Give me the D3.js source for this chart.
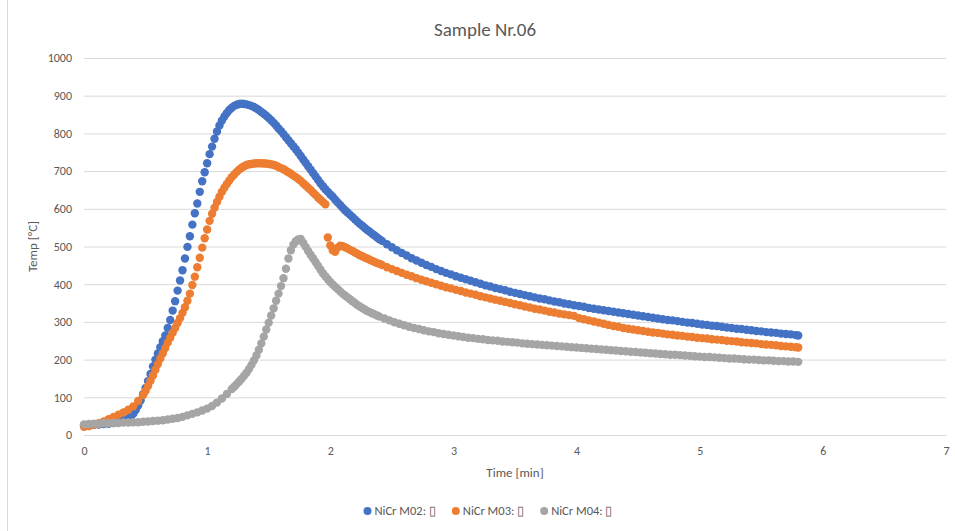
<!DOCTYPE html>
<html>
<head>
<meta charset="utf-8">
<script src="https://cdn.jsdelivr.net/npm/d3@7/dist/d3.min.js"></script>
<style>
body { margin: 0; background: #fff; }
svg text { font-family: Carlito, Calibri, "Open Sans", sans-serif; fill: #595959; }
</style>
</head>
<body>
<div id="chart"></div>
<script>
// readings [time in min, temp in °C]
var m02 = [[0,25],[0.04,26],[0.08,27],[0.12,28],[0.16,29],[0.2,30],[0.24,32],[0.28,35],[0.32,39],[0.36,44],
  [0.38,48],[0.4,56],[0.42,66],[0.44,78],[0.46,92],[0.48,108],[0.5,125],[0.52,143],[0.54,162],[0.56,182],
  [0.58,200],[0.6,216],[0.62,233],[0.64,249],[0.66,264],[0.68,284],[0.7,305],[0.72,330],[0.74,355],[0.76,383],
  [0.78,410],[0.8,437],[0.82,468],[0.84,499],[0.86,527],[0.88,558],[0.9,588],[0.92,614],[0.94,645],[0.96,673],
  [0.98,697],[1,721],[1.02,745],[1.04,765],[1.06,786],[1.08,805],[1.1,821],[1.12,834],[1.14,845],[1.16,854],
  [1.18,862],[1.2,868],[1.22,873],[1.24,876],[1.26,878],[1.28,879],[1.3,878],[1.32,877],[1.34,875],[1.36,873],
  [1.38,870],[1.4,866],[1.42,862],[1.44,857],[1.46,852],[1.48,847],[1.5,841],[1.52,835],[1.54,828],[1.56,821],
  [1.58,813],[1.6,806],[1.62,798],[1.64,790],[1.66,782],[1.68,774],[1.7,766],[1.72,758],[1.74,749],[1.76,740],
  [1.78,731],[1.8,722],[1.82,713],[1.84,704],[1.86,695],[1.88,686],[1.9,677],[1.92,668],[1.94,660],[1.96,652],
  [1.98,645],[2,638],[2.02,632],[2.04,624],[2.06,617],[2.08,610],[2.1,603],[2.12,596],[2.14,590],[2.16,584],
  [2.18,578],[2.2,572],[2.22,566],[2.24,560],[2.26,555],[2.28,549],[2.3,544],[2.32,539],[2.34,534],[2.36,529],
  [2.38,524],[2.4,519],[2.42,515],[2.46,506],[2.5,498],[2.54,490],[2.58,483],[2.62,476],
  [2.66,469],[2.7,463],[2.74,457],[2.78,451],[2.82,446],[2.86,440],[2.9,435],[2.94,430],[2.98,426],[3.02,421],
  [3.06,417],[3.1,413],[3.14,409],[3.18,405],[3.22,401],[3.26,397],[3.3,394],[3.34,390],[3.38,387],[3.42,384],
  [3.46,380],[3.5,377],[3.54,374],[3.58,371],[3.62,368],[3.66,365],[3.7,362],[3.74,360],[3.78,357],[3.82,354],
  [3.86,352],[3.9,349],[3.94,347],[3.98,344],[4.02,342],[4.06,340],[4.1,337],[4.14,335],[4.18,333],[4.22,331],
  [4.26,329],[4.3,327],[4.34,325],[4.38,323],[4.42,321],[4.46,319],[4.5,317],[4.54,315],[4.58,313],[4.62,311],
  [4.66,309],[4.7,307],[4.74,305],[4.78,304],[4.82,302],[4.86,300],[4.9,298],[4.94,297],[4.98,295],[5.02,293],
  [5.06,292],[5.1,290],[5.14,289],[5.18,287],[5.22,285],[5.26,284],[5.3,282],[5.34,281],[5.38,279],[5.42,278],
  [5.46,276],[5.5,275],[5.54,273],[5.58,272],[5.62,271],[5.66,269],[5.7,268],[5.74,267],[5.78,265],[5.8,264]];

var m03 = [[0,22],[0.04,24],[0.08,27],[0.12,31],[0.16,36],[0.2,42],[0.24,48],[0.28,54],[0.32,60],[0.36,67],
  [0.4,76],[0.44,90],[0.48,106],[0.5,117],[0.52,130],[0.54,144],[0.56,158],[0.58,173],[0.6,188],[0.62,203],
  [0.64,217],[0.66,231],[0.68,245],[0.7,258],[0.72,271],[0.74,284],[0.76,297],[0.78,310],[0.8,324],[0.82,339],
  [0.84,356],[0.86,375],[0.88,398],[0.9,420],[0.92,445],[0.94,470],[0.96,497],[0.98,522],[1,545],[1.02,568],
  [1.04,587],[1.06,603],[1.08,618],[1.1,632],[1.12,645],[1.14,656],[1.16,666],[1.18,675],[1.2,684],[1.22,691],
  [1.24,698],[1.26,704],[1.28,709],[1.3,713],[1.32,716],[1.34,718],[1.36,719],[1.38,720],[1.4,721],[1.42,721],
  [1.44,721],[1.46,720],[1.48,720],[1.5,719],[1.52,718],[1.54,716],[1.56,714],[1.58,711],[1.6,708],[1.62,705],
  [1.64,701],[1.66,697],[1.68,693],[1.7,688],[1.72,684],[1.74,679],[1.76,674],[1.78,668],[1.8,662],[1.82,656],
  [1.84,650],[1.86,643],[1.88,637],[1.9,630],[1.92,624],[1.94,618],[1.96,612],
  [1.98,524],[2,503],[2.02,490],[2.04,486],[2.06,497],[2.08,502],[2.1,501],[2.12,498],[2.14,495],[2.16,491],
  [2.18,488],[2.2,484],[2.22,481],[2.24,477],[2.26,474],[2.28,471],[2.3,468],[2.32,465],[2.34,462],[2.36,459],
  [2.38,456],[2.4,454],[2.42,451],[2.46,445],[2.5,440],[2.54,435],
  [2.58,430],[2.62,425],[2.66,421],[2.7,416],[2.74,412],[2.78,408],[2.82,404],[2.86,400],[2.9,396],[2.94,392],
  [2.98,389],[3.02,385],[3.06,382],[3.1,378],[3.14,375],[3.18,372],[3.22,368],[3.26,365],[3.3,362],[3.34,359],
  [3.38,356],[3.42,353],[3.46,350],[3.5,347],[3.54,344],[3.58,341],[3.62,338],[3.66,335],[3.7,333],[3.74,330],
  [3.78,327],[3.82,325],[3.86,322],[3.9,320],[3.94,318],[3.98,316],[4.02,310],[4.06,307],[4.1,304],[4.14,301],
  [4.18,298],[4.22,295],[4.26,292],[4.3,289],[4.34,287],[4.38,284],[4.42,282],[4.46,280],[4.5,278],[4.54,276],
  [4.58,274],[4.62,272],[4.66,271],[4.7,269],[4.74,267],[4.78,266],[4.82,264],[4.86,263],[4.9,261],[4.94,260],
  [4.98,258],[5.02,257],[5.06,256],[5.1,254],[5.14,253],[5.18,252],[5.22,250],[5.26,249],[5.3,248],[5.34,246],
  [5.38,245],[5.42,244],[5.46,243],[5.5,241],[5.54,240],[5.58,239],[5.62,238],[5.66,236],[5.7,235],[5.74,234],
  [5.78,233],[5.8,232]];

var m04 = [[0,28],[0.04,29],[0.08,30],[0.12,30],[0.16,31],[0.2,31],[0.24,32],[0.28,32],[0.32,33],[0.36,33],
  [0.4,34],[0.44,34],[0.48,35],[0.52,36],[0.56,37],[0.6,38],[0.64,39],[0.68,41],[0.72,43],[0.76,45],
  [0.8,48],[0.84,52],[0.88,56],[0.92,60],[0.96,65],[1,70],[1.04,77],[1.08,86],[1.12,97],[1.16,109],
  [1.2,122],[1.22,128],[1.24,135],[1.26,142],[1.28,149],[1.3,157],[1.32,165],[1.34,175],[1.36,186],[1.38,198],
  [1.4,211],[1.42,226],[1.44,243],[1.46,261],[1.48,280],[1.5,298],[1.52,317],[1.54,336],[1.56,356],[1.58,375],
  [1.6,395],[1.62,416],[1.64,441],[1.66,468],[1.68,490],[1.7,505],[1.72,514],[1.74,519],[1.76,520],[1.78,510],
  [1.8,499],[1.82,488],[1.84,478],[1.86,469],[1.88,459],[1.9,449],[1.92,439],[1.94,429],[1.96,421],[1.98,413],
  [2,406],[2.02,399],[2.04,393],[2.06,387],[2.08,381],[2.1,375],[2.12,370],[2.14,365],[2.16,360],[2.18,355],
  [2.2,350],[2.22,345],[2.24,341],[2.26,337],[2.28,333],[2.3,329],[2.32,326],[2.34,323],[2.36,320],[2.38,317],
  [2.4,314],[2.44,309],[2.48,304],[2.52,299],[2.56,295],[2.6,291],[2.64,287],[2.68,284],[2.72,281],[2.76,278],
  [2.8,275],[2.84,273],[2.88,270],[2.92,268],[2.96,266],[3,264],[3.04,262],[3.08,260],[3.12,258],[3.16,257],
  [3.2,255],[3.24,254],[3.28,252],[3.32,251],[3.36,250],[3.4,248],[3.44,247],[3.48,246],[3.52,245],[3.56,243],
  [3.6,242],[3.64,241],[3.68,240],[3.72,239],[3.76,238],[3.8,237],[3.84,236],[3.88,235],[3.92,234],[3.96,233],
  [4,232],[4.04,231],[4.08,230],[4.12,229],[4.16,228],[4.2,227],[4.24,226],[4.28,225],[4.32,224],[4.36,223],
  [4.4,222],[4.44,221],[4.48,220],[4.52,219],[4.56,218],[4.6,217],[4.64,216],[4.68,215],[4.72,214],[4.76,213],
  [4.8,213],[4.84,212],[4.88,211],[4.92,210],[4.96,209],[5,208],[5.04,207],[5.08,207],[5.12,206],[5.16,205],
  [5.2,204],[5.24,203],[5.28,203],[5.32,202],[5.36,201],[5.4,200],[5.44,200],[5.48,199],[5.52,198],[5.56,198],
  [5.6,197],[5.64,196],[5.68,196],[5.72,195],[5.76,195],[5.8,194]];

var seriesNames = ["NiCr M02: \u25AF", "NiCr M03: \u25AF", "NiCr M04: \u25AF"];
var seriesColors = ["#4472C4", "#ED7D31", "#A5A5A5"];
var xTicks = [0, 1, 2, 3, 4, 5, 6, 7];
var yTicks = [0, 100, 200, 300, 400, 500, 600, 700, 800, 900, 1000];

var svgwidth = 955, svgheight = 531;
var margin = {top: 58, right: 9, bottom: 96, left: 84};
var width = svgwidth - margin.left - margin.right;
var height = svgheight - margin.top - margin.bottom;

var svg = d3.select("#chart")
    .append("svg")
    .attr("width", svgwidth)
    .attr("height", svgheight);

// chart area border on the left
svg.append("line")
    .attr("x1", 7.5).attr("x2", 7.5)
    .attr("y1", 0).attr("y2", svgheight)
    .attr("stroke", "#D9D9D9");

var g = svg.append("g")
    .attr("transform", "translate(" + margin.left + "," + margin.top + ")");

var x = d3.scaleLinear().domain([0, 7]).range([0, width]);
var y = d3.scaleLinear().domain([0, 1000]).range([height, 0]);

var yAxisg = g.append("g")
    .call(d3.axisLeft(y).tickValues(yTicks).tickFormat(d3.format("d")).tickSize(-width).tickPadding(12));
yAxisg.select(".domain").remove();
yAxisg.selectAll("line").attr("stroke", "#D9D9D9");
yAxisg.selectAll("text").attr("font-size", 12).style("fill", "#595959");

var xAxisg = g.append("g")
    .attr("transform", "translate(0," + height + ")")
    .call(d3.axisBottom(x).tickValues(xTicks).tickFormat(d3.format("d")).tickSize(0).tickPadding(11));
xAxisg.select(".domain").attr("stroke", "#D9D9D9");
xAxisg.selectAll("text").attr("font-size", 12).style("fill", "#595959");

// titles
svg.append("text")
    .attr("x", 485)
    .attr("y", 36)
    .attr("text-anchor", "middle")
    .attr("font-size", 19)
    .text("Sample Nr.06");

svg.append("text")
    .attr("x", margin.left + width / 2)
    .attr("y", 477)
    .attr("text-anchor", "middle")
    .attr("font-size", 13)
    .text("Time [min]");

svg.append("text")
    .attr("transform", "translate(37," + (margin.top + height / 2) + ") rotate(-90)")
    .attr("text-anchor", "middle")
    .attr("font-size", 13)
    .text("Temp [\u00B0C]");

// scatter points, one group per series
var allSeries = [m02, m03, m04];
allSeries.forEach(function(data, i) {
    g.append("g")
        .selectAll("circle")
        .data(data)
        .enter().append("circle")
        .attr("cx", function(d) { return x(d[0]); })
        .attr("cy", function(d) { return y(d[1]); })
        .attr("r", 4.2)
        .attr("fill", seriesColors[i]);
});

// legend
var legend = svg.append("g").attr("transform", "translate(0,511)");
var items = legend.selectAll("g")
    .data(seriesNames)
    .enter().append("g");
items.append("circle")
    .attr("r", 4)
    .attr("fill", function(d, i) { return seriesColors[i]; });
items.append("text")
    .attr("x", 7)
    .attr("dy", "0.35em")
    .attr("font-size", 12.5)
    .text(function(d) { return d; });

var offs = [], pos = 0;
items.each(function(d, i) {
    var w = d3.select(this).select("text").node().getComputedTextLength();
    offs.push(pos);
    pos += 4 + 7 + w + 16;
});
var total = pos - 16;
var startX = 488 - total / 2 + 4;
items.attr("transform", function(d, i) { return "translate(" + (startX + offs[i]) + ",0)"; });
</script>
</body>
</html>
